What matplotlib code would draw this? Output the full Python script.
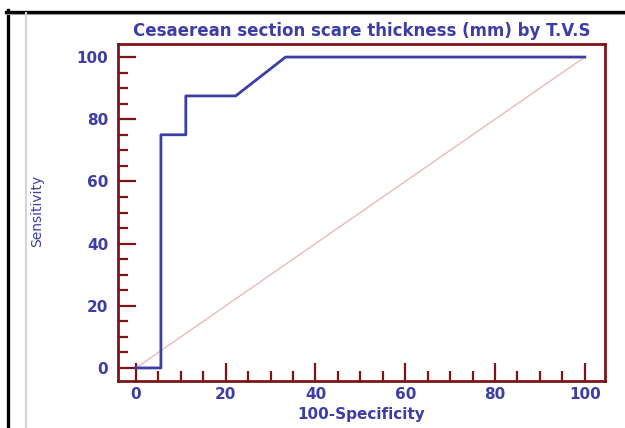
import numpy as np
import matplotlib
matplotlib.use("Agg")
import matplotlib.pyplot as plt
from matplotlib.lines import Line2D
from matplotlib.ticker import MultipleLocator

# ROC curve
fpr = [0, 5.56, 5.56, 11.11, 11.11, 22.22, 33.33, 100]
tpr = [0, 0, 75, 75, 87.5, 87.5, 100, 100]
diag = [0, 100]
xticks = [0, 20, 40, 60, 80, 100]
yticks = [0, 20, 40, 60, 80, 100]

title = "Cesaerean section scare thickness (mm) by T.V.S"
xlabel = "100-Specificity"
ylabel = "Sensitivity"

blue = "#3d3da6"
red = "#7d1518"

plt.rcParams["font.family"] = ["DejaVu Sans"]

W, H = 625, 428
fig = plt.figure(figsize=(W / 100, H / 100), dpi=100)

# outer frame bits
fig.add_artist(Line2D([7.5 / W, 7.5 / W], [0, 1 - 10 / H], color="black", lw=2.4))
fig.add_artist(Line2D([6 / W, 1], [1 - 11.5 / H, 1 - 11.5 / H], color="black", lw=2.4))
fig.add_artist(Line2D([6 / W, 1], [1 - 13.5 / H, 1 - 13.5 / H], color="#9a9a9a", lw=0.8))
fig.add_artist(Line2D([25.5 / W, 25.5 / W], [0, 1 - 13 / H], color="#d4d4d4", lw=1.5))

l, r, t, b = 118, 605, 44, 381
ax = fig.add_axes([l / W, 1 - b / H, (r - l) / W, (b - t) / H])

ax.plot(diag, diag, color="#e6b3b3", lw=0.9)
ax.plot(fpr, tpr, color=blue, lw=2.0)

ax.set_xlim(-4, 104.5)
ax.set_ylim(-4.2, 104.2)
ax.set_xticks(xticks)
ax.set_yticks(yticks)
ax.xaxis.set_minor_locator(MultipleLocator(5))
ax.yaxis.set_minor_locator(MultipleLocator(5))

for s in ax.spines.values():
    s.set_color(red)
    s.set_linewidth(2.0)

ax.tick_params(which="both", direction="in", color=red, width=1.6,
               top=False, right=False)
ax.tick_params(which="major", length=13)
ax.tick_params(which="minor", length=7)
ax.tick_params(axis="y", which="major", pad=7, labelsize=11, labelcolor=blue)
ax.tick_params(axis="x", which="major", pad=4, labelsize=11, labelcolor=blue)
for lab in ax.get_xticklabels() + ax.get_yticklabels():
    lab.set_fontweight("bold")

ax.set_title(title, color=blue, fontsize=12, fontweight="bold", pad=6)
ax.set_xlabel(xlabel, color=blue, fontsize=11, fontweight="bold", labelpad=4)
fig.text(37 / W, 1 - 211 / H, ylabel, rotation=90, color=blue, fontsize=10,
         ha="center", va="center")

fig.savefig("out.png", dpi=100)
